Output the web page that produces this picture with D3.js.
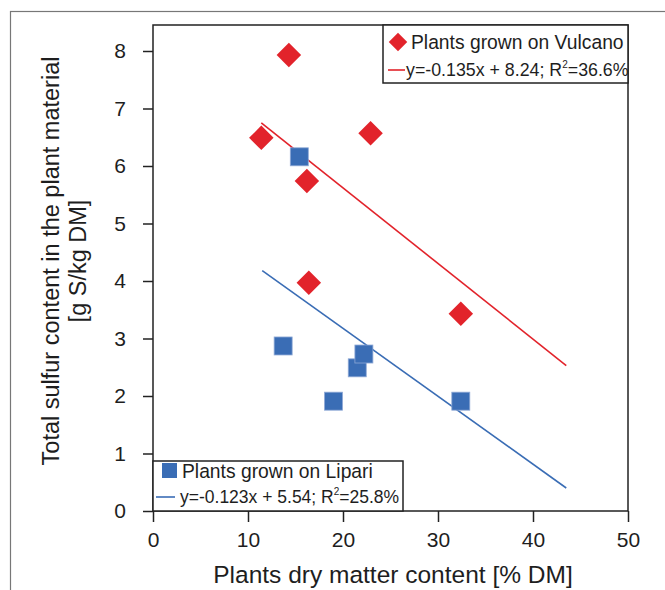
<!DOCTYPE html>
<html>
<head>
<meta charset="utf-8">
<script src="https://cdn.jsdelivr.net/npm/d3@7"></script>
<style>
  body { margin: 0; background: #fff; }
  text { font-family: "Liberation Sans", Arial, sans-serif; fill: #1e1e1e; }
</style>
</head>
<body>
<div id="canvas"></div>
<script>
"use strict";

/* ===============================
   Data */
let vulcanoX = [11.4, 14.3, 16.2, 16.4, 22.9, 32.4];
let vulcanoY = [6.49, 7.93, 5.74, 3.97, 6.57, 3.43];

let lipariX = [15.4, 13.7, 19.0, 21.5, 22.2, 32.4];
let lipariY = [6.16, 2.87, 1.91, 2.49, 2.73, 1.91];

/* fitted lines as drawn: [x, y] end points */
let vulcanoFit = [[11.4, 6.75], [43.5, 2.53]];
let lipariFit = [[11.5, 4.18], [43.5, 0.40]];

let xTicks = [0, 10, 20, 30, 40, 50];
let yTicks = [0, 1, 2, 3, 4, 5, 6, 7, 8];

let vulcanoLabel = "Plants grown on Vulcano";
let vulcanoEq = "y=-0.135x + 8.24; R";
let vulcanoR2 = "=36.6%";
let lipariLabel = "Plants grown on Lipari";
let lipariEq = "y=-0.123x + 5.54; R";
let lipariR2 = "=25.8%";

/* ===============================
   Configuration */
let svgWidth = 665;
let svgHeight = 590;
let plotLeft = 153;
let plotRight = 628;
let plotTop = 25;
let plotBottom = 511;
let red = "#e2232b";
let blue = "#3a6db5";

let svg = d3.select("#canvas")
  .append("svg")
  .attr("width", svgWidth)
  .attr("height", svgHeight);

/* outer frame */
svg.append("rect")
  .attr("x", 10.5)
  .attr("y", 11.5)
  .attr("width", 700)
  .attr("height", 700)
  .attr("fill", "none")
  .attr("stroke", "#777")
  .attr("stroke-width", 1.2);

let xScale = d3.scaleLinear().domain([0, 50]).range([plotLeft, plotRight]);
let yScale = d3.scaleLinear().domain([0, 8]).range([plotBottom, 51]);

/* plot box */
svg.append("rect")
  .attr("x", plotLeft)
  .attr("y", plotTop)
  .attr("width", plotRight - plotLeft)
  .attr("height", plotBottom - plotTop)
  .attr("fill", "none")
  .attr("stroke", "#222")
  .attr("stroke-width", 1.5);

/* axes */
let xAxis = svg.append("g")
  .attr("transform", "translate(0," + plotBottom + ")")
  .call(d3.axisBottom(xScale).tickValues(xTicks).tickSize(11).tickPadding(10));

let yAxis = svg.append("g")
  .attr("transform", "translate(" + plotLeft + ",0)")
  .call(d3.axisLeft(yScale).tickValues(yTicks).tickSize(10).tickPadding(17));

[xAxis, yAxis].forEach(function (g) {
  g.select(".domain").remove();
  g.selectAll("line").attr("stroke", "#222").attr("stroke-width", 1.5);
  g.selectAll("text")
    .style("font-family", "Liberation Sans, Arial, sans-serif")
    .style("font-size", "21px")
    .attr("fill", "#1e1e1e");
});

/* fit lines */
let line = d3.line()
  .x(function (d) { return xScale(d[0]); })
  .y(function (d) { return yScale(d[1]); });

svg.append("path")
  .attr("d", line(vulcanoFit))
  .attr("fill", "none")
  .attr("stroke", red)
  .attr("stroke-width", 1.6);

svg.append("path")
  .attr("d", line(lipariFit))
  .attr("fill", "none")
  .attr("stroke", blue)
  .attr("stroke-width", 1.6);

/* points */
let diamond = d3.symbol().type(d3.symbolSquare).size(300);

svg.selectAll("path.vulcano")
  .data(vulcanoX)
  .join("path")
  .attr("class", "vulcano")
  .attr("d", diamond)
  .attr("transform", function (d, i) {
    return "translate(" + xScale(d) + "," + yScale(vulcanoY[i]) + ") rotate(45)";
  })
  .attr("fill", red);

svg.selectAll("rect.lipari")
  .data(lipariX)
  .join("rect")
  .attr("class", "lipari")
  .attr("x", function (d) { return xScale(d) - 9; })
  .attr("y", function (d, i) { return yScale(lipariY[i]) - 9; })
  .attr("width", 18)
  .attr("height", 18)
  .attr("fill", blue)
  .attr("stroke", "#8fa9d6")
  .attr("stroke-width", 0.8);

/* ===============================
   Legends */
/* Vulcano legend, top right */
let vl = svg.append("g");
vl.append("rect")
  .attr("x", 383)
  .attr("y", plotTop)
  .attr("width", plotRight - 383)
  .attr("height", 58)
  .attr("fill", "#fff")
  .attr("stroke", "#222")
  .attr("stroke-width", 1.5);
vl.append("path")
  .attr("d", d3.symbol().type(d3.symbolSquare).size(170))
  .attr("transform", "translate(398,42) rotate(45)")
  .attr("fill", red);
vl.append("text")
  .attr("x", 411)
  .attr("y", 49)
  .style("font-size", "19.3px")
  .text(vulcanoLabel);
vl.append("line")
  .attr("x1", 388).attr("x2", 405)
  .attr("y1", 70).attr("y2", 70)
  .attr("stroke", red)
  .attr("stroke-width", 1.6);
let vt = vl.append("text")
  .attr("x", 406)
  .attr("y", 76)
  .style("font-size", "17.8px")
  .text(vulcanoEq);
vt.append("tspan").attr("dy", -8).style("font-size", "10px").text("2");
vt.append("tspan").attr("dy", 8).text(vulcanoR2);

/* Lipari legend, bottom left */
let ll = svg.append("g");
ll.append("rect")
  .attr("x", plotLeft)
  .attr("y", 461)
  .attr("width", 250)
  .attr("height", plotBottom - 461)
  .attr("fill", "#fff")
  .attr("stroke", "#222")
  .attr("stroke-width", 1.5);
ll.append("rect")
  .attr("x", 162).attr("y", 463)
  .attr("width", 15).attr("height", 15)
  .attr("fill", blue);
ll.append("text")
  .attr("x", 182)
  .attr("y", 478)
  .style("font-size", "19.3px")
  .text(lipariLabel);
ll.append("line")
  .attr("x1", 156).attr("x2", 175)
  .attr("y1", 497).attr("y2", 497)
  .attr("stroke", blue)
  .attr("stroke-width", 1.6);
let lt = ll.append("text")
  .attr("x", 180)
  .attr("y", 503)
  .style("font-size", "17.5px")
  .text(lipariEq);
lt.append("tspan").attr("dy", -8).style("font-size", "10px").text("2");
lt.append("tspan").attr("dy", 8).text(lipariR2);

/* ===============================
   Axis titles */
svg.append("text")
  .attr("x", 393)
  .attr("y", 583)
  .attr("text-anchor", "middle")
  .style("font-size", "24.5px")
  .text("Plants dry matter content [% DM]");

let yTitle = svg.append("text")
  .attr("transform", "translate(59," + 261 + ") rotate(-90)")
  .attr("text-anchor", "middle")
  .style("font-size", "23.5px");
yTitle.append("tspan").attr("x", 0).attr("y", 0)
  .text("Total sulfur content in the plant material");
yTitle.append("tspan").attr("x", 0).attr("y", 27)
  .text("[g S/kg DM]");
</script>
</body>
</html>
